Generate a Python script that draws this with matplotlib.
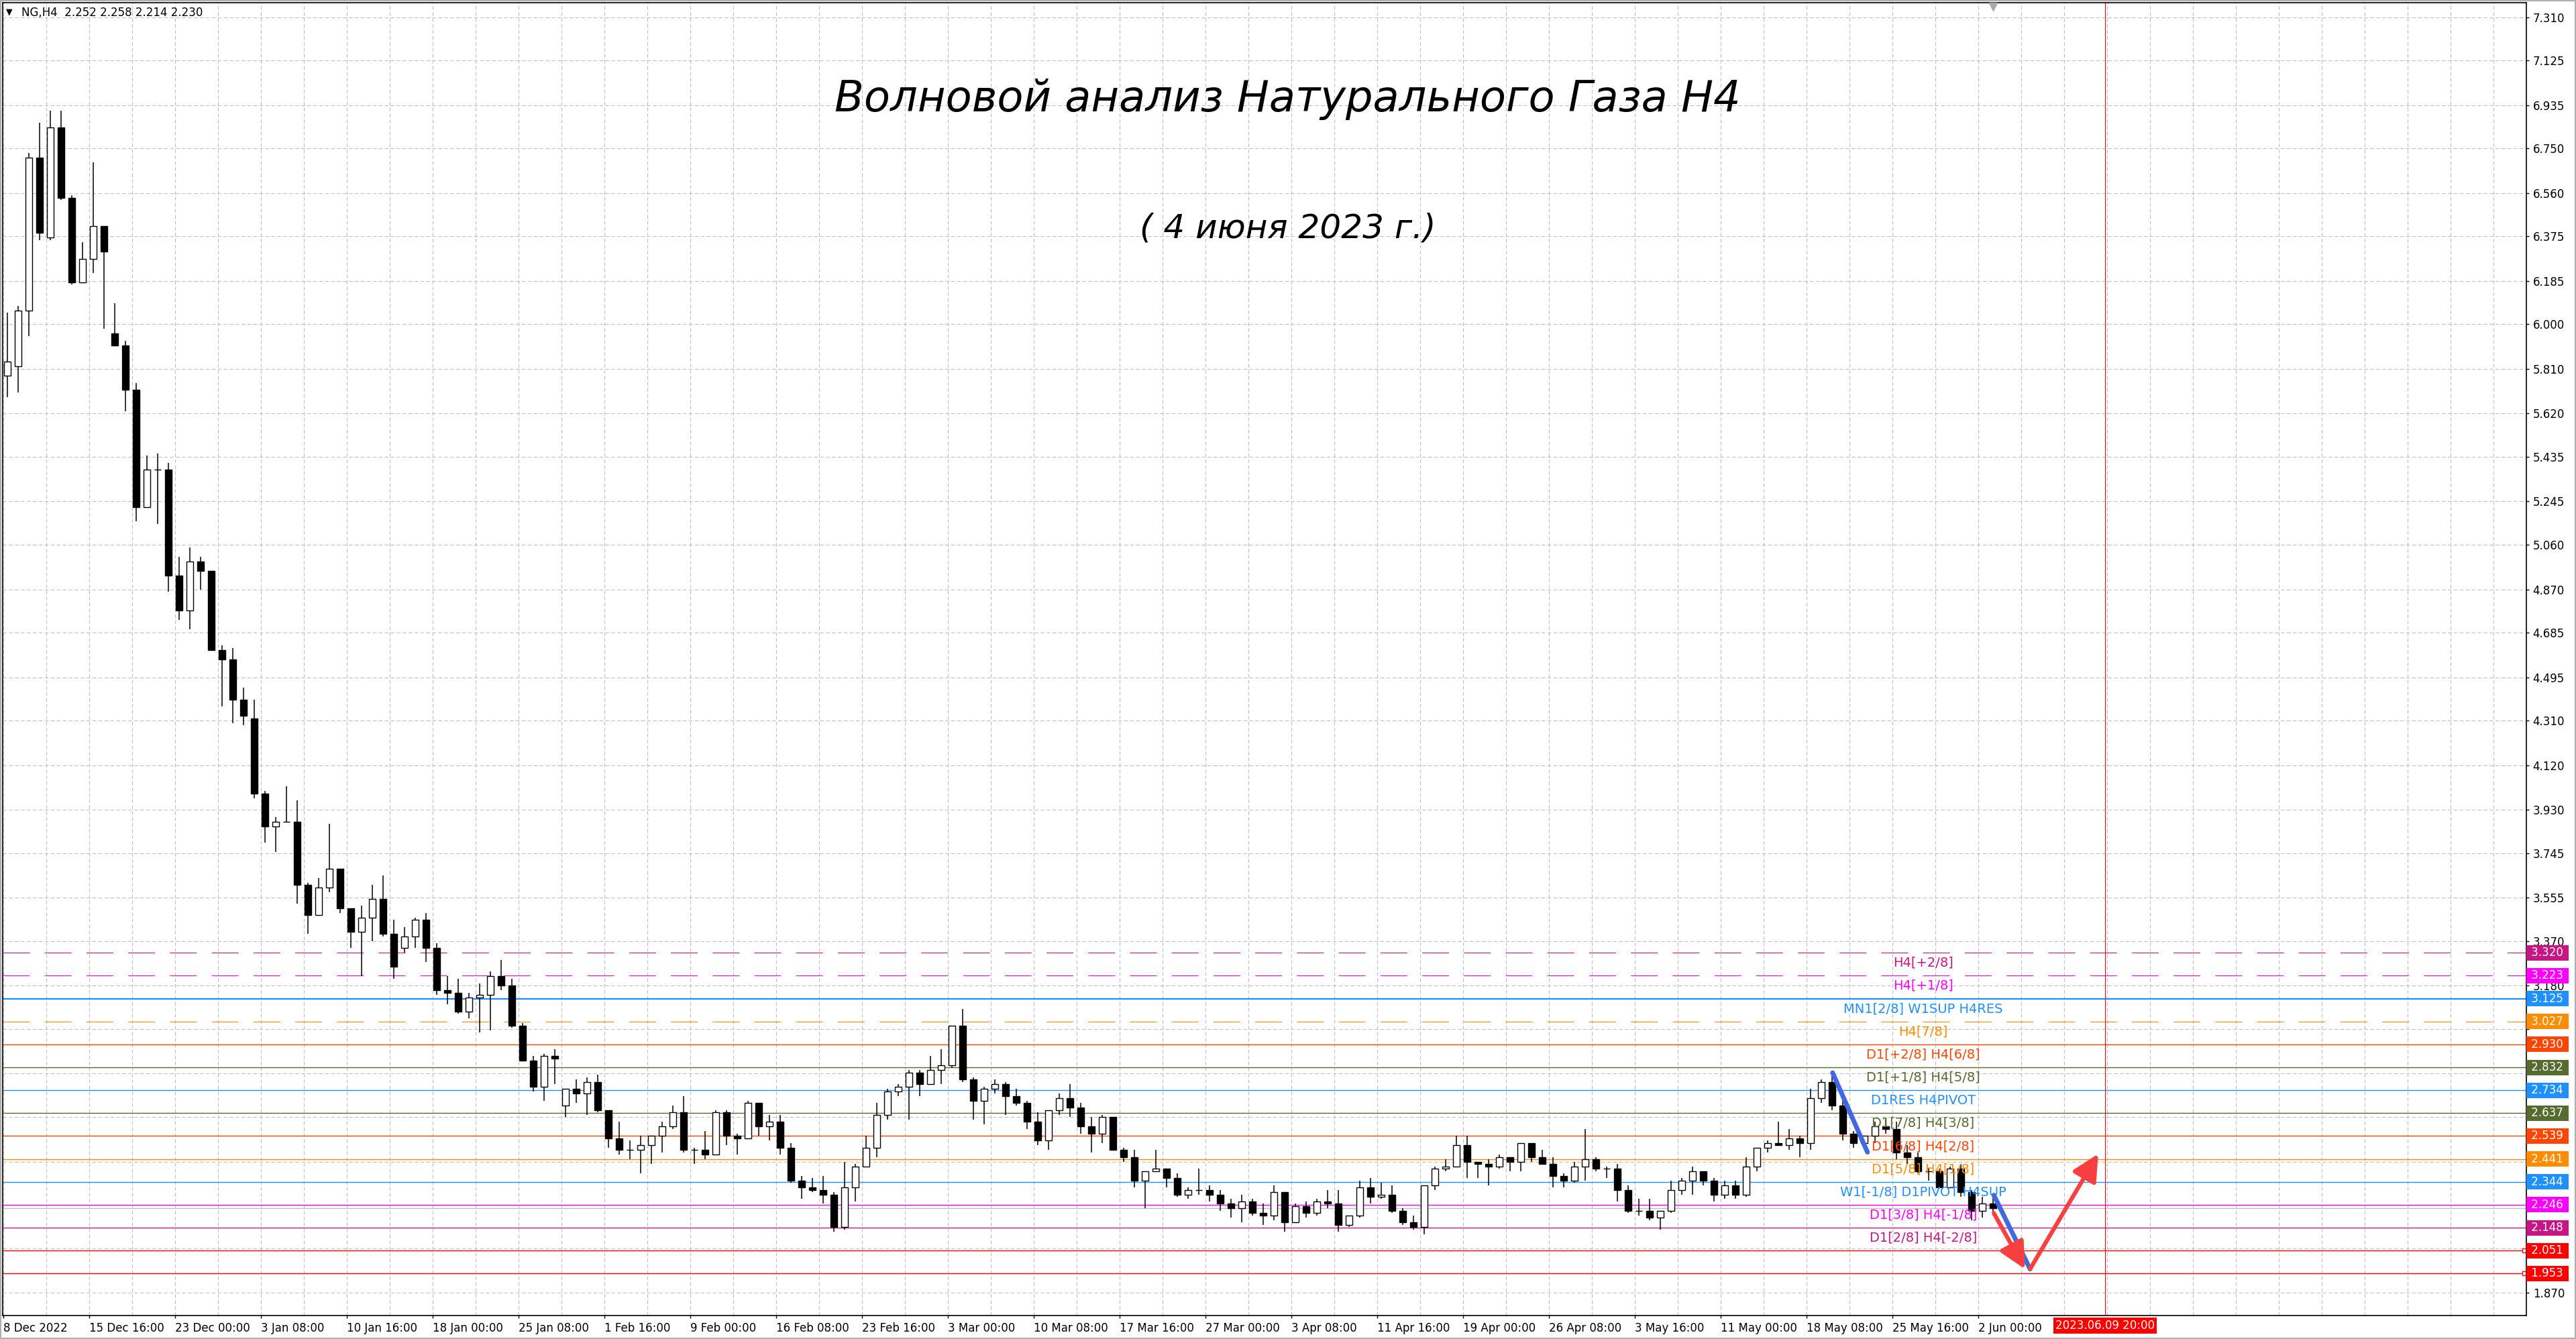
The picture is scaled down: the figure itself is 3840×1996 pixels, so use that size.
import numpy as np
import matplotlib.pyplot as plt
from matplotlib.transforms import blended_transform_factory
from matplotlib.patches import Rectangle

plt.rcParams['font.family'] = ['DejaVu Sans']

# NG H4 candles, one candle per 4 H4 bars
bars_per_candle = 4
opens = [5.78, 5.82, 6.06, 6.71, 6.37, 6.84, 6.54, 6.18, 6.28, 6.42,
         5.96, 5.91, 5.72, 5.22, 5.38, 5.38, 4.93, 4.78, 4.99, 4.95,
         4.61, 4.57, 4.40, 4.32, 4.00, 3.86, 3.88, 3.88, 3.61, 3.48,
         3.60, 3.68, 3.51, 3.41, 3.47, 3.55, 3.40, 3.34, 3.39, 3.46,
         3.34, 3.16, 3.15, 3.07, 3.13, 3.14, 3.22, 3.18, 3.01, 2.86,
         2.75, 2.88, 2.67, 2.74, 2.72, 2.77, 2.65, 2.53, 2.48, 2.48,
         2.50, 2.54, 2.58, 2.64, 2.48, 2.48, 2.46, 2.64, 2.54, 2.53,
         2.68, 2.58, 2.60, 2.49, 2.35, 2.32, 2.31, 2.29, 2.15, 2.32,
         2.41, 2.49, 2.63, 2.73, 2.75, 2.81, 2.76, 2.82, 2.84, 3.01,
         2.78, 2.69, 2.74, 2.76, 2.71, 2.68, 2.60, 2.52, 2.65, 2.70,
         2.66, 2.58, 2.55, 2.62, 2.48, 2.45, 2.35, 2.39, 2.40, 2.36,
         2.29, 2.31, 2.31, 2.29, 2.25, 2.23, 2.26, 2.21, 2.20, 2.30,
         2.17, 2.24, 2.21, 2.26, 2.25, 2.16, 2.20, 2.32, 2.28, 2.29,
         2.22, 2.17, 2.15, 2.33, 2.40, 2.41, 2.50, 2.43, 2.42, 2.41,
         2.45, 2.43, 2.51, 2.45, 2.42, 2.37, 2.35, 2.41, 2.44, 2.40,
         2.40, 2.31, 2.22, 2.22, 2.19, 2.22, 2.31, 2.35, 2.39, 2.35,
         2.29, 2.33, 2.29, 2.41, 2.49, 2.51, 2.50, 2.53, 2.51, 2.70,
         2.77, 2.67, 2.55, 2.51, 2.54, 2.58, 2.57, 2.47, 2.45, 2.39,
         2.39, 2.32, 2.40, 2.30, 2.22, 2.252]
highs = [6.05, 6.08, 6.73, 6.86, 6.91, 6.91, 6.55, 6.35, 6.69, 6.42,
         6.09, 5.93, 5.75, 5.44, 5.45, 5.41, 5.01, 5.05, 5.01, 4.95,
         4.63, 4.62, 4.45, 4.40, 4.01, 3.90, 4.03, 3.97, 3.62, 3.64,
         3.87, 3.68, 3.51, 3.52, 3.61, 3.65, 3.46, 3.43, 3.47, 3.49,
         3.36, 3.22, 3.21, 3.15, 3.19, 3.24, 3.29, 3.21, 3.02, 2.88,
         2.89, 2.91, 2.74, 2.78, 2.79, 2.80, 2.65, 2.60, 2.52, 2.54,
         2.54, 2.60, 2.67, 2.71, 2.49, 2.56, 2.65, 2.65, 2.55, 2.69,
         2.68, 2.63, 2.63, 2.51, 2.37, 2.36, 2.37, 2.30, 2.43, 2.42,
         2.54, 2.68, 2.74, 2.76, 2.82, 2.82, 2.88, 2.91, 3.01, 3.08,
         2.79, 2.75, 2.78, 2.77, 2.74, 2.69, 2.64, 2.65, 2.72, 2.76,
         2.68, 2.62, 2.63, 2.62, 2.49, 2.48, 2.39, 2.48, 2.40, 2.38,
         2.32, 2.40, 2.33, 2.31, 2.27, 2.29, 2.27, 2.25, 2.33, 2.30,
         2.25, 2.26, 2.27, 2.31, 2.31, 2.20, 2.35, 2.36, 2.34, 2.33,
         2.23, 2.20, 2.33, 2.41, 2.44, 2.54, 2.54, 2.43, 2.44, 2.46,
         2.45, 2.51, 2.51, 2.48, 2.45, 2.38, 2.43, 2.57, 2.45, 2.41,
         2.42, 2.33, 2.27, 2.27, 2.22, 2.35, 2.36, 2.41, 2.39, 2.36,
         2.35, 2.35, 2.45, 2.49, 2.52, 2.60, 2.57, 2.54, 2.74, 2.78,
         2.81, 2.70, 2.56, 2.54, 2.60, 2.61, 2.60, 2.50, 2.47, 2.40,
         2.40, 2.41, 2.42, 2.31, 2.28, 2.29]
lows = [5.69, 5.71, 5.95, 6.36, 6.36, 6.53, 6.17, 6.18, 6.22, 5.98,
        5.91, 5.63, 5.16, 5.22, 5.15, 4.86, 4.74, 4.70, 4.87, 4.61,
        4.37, 4.30, 4.29, 3.98, 3.79, 3.75, 3.88, 3.53, 3.40, 3.48,
        3.58, 3.49, 3.34, 3.22, 3.37, 3.39, 3.21, 3.32, 3.34, 3.28,
        3.14, 3.10, 3.06, 3.04, 2.98, 2.99, 3.16, 3.00, 2.86, 2.73,
        2.69, 2.76, 2.62, 2.68, 2.63, 2.64, 2.49, 2.46, 2.44, 2.38,
        2.42, 2.47, 2.57, 2.47, 2.42, 2.44, 2.46, 2.50, 2.46, 2.53,
        2.54, 2.52, 2.46, 2.34, 2.27, 2.30, 2.25, 2.13, 2.14, 2.26,
        2.41, 2.45, 2.61, 2.71, 2.61, 2.71, 2.76, 2.76, 2.83, 2.77,
        2.61, 2.59, 2.72, 2.63, 2.67, 2.57, 2.50, 2.48, 2.63, 2.62,
        2.55, 2.47, 2.51, 2.48, 2.43, 2.32, 2.23, 2.39, 2.32, 2.28,
        2.27, 2.29, 2.26, 2.22, 2.19, 2.17, 2.20, 2.16, 2.18, 2.13,
        2.17, 2.19, 2.20, 2.23, 2.13, 2.15, 2.19, 2.25, 2.27, 2.21,
        2.16, 2.14, 2.12, 2.31, 2.39, 2.41, 2.36, 2.36, 2.33, 2.40,
        2.39, 2.39, 2.43, 2.42, 2.32, 2.32, 2.34, 2.35, 2.39, 2.36,
        2.26, 2.21, 2.20, 2.18, 2.14, 2.21, 2.29, 2.29, 2.33, 2.26,
        2.27, 2.27, 2.28, 2.39, 2.47, 2.50, 2.48, 2.45, 2.48, 2.68,
        2.65, 2.52, 2.49, 2.49, 2.51, 2.55, 2.44, 2.42, 2.38, 2.35,
        2.32, 2.32, 2.28, 2.18, 2.19, 2.20]
closes = [5.84, 6.06, 6.71, 6.39, 6.84, 6.54, 6.18, 6.28, 6.42, 6.31,
          5.91, 5.72, 5.22, 5.38, 5.38, 4.93, 4.78, 4.99, 4.95, 4.61,
          4.57, 4.40, 4.33, 4.00, 3.86, 3.88, 3.88, 3.61, 3.48, 3.60,
          3.68, 3.51, 3.41, 3.47, 3.55, 3.40, 3.26, 3.39, 3.46, 3.34,
          3.16, 3.15, 3.07, 3.13, 3.14, 3.22, 3.18, 3.01, 2.86, 2.75,
          2.88, 2.87, 2.74, 2.72, 2.77, 2.65, 2.53, 2.48, 2.48, 2.50,
          2.54, 2.58, 2.64, 2.48, 2.48, 2.46, 2.64, 2.54, 2.53, 2.68,
          2.58, 2.60, 2.49, 2.35, 2.32, 2.31, 2.29, 2.15, 2.32, 2.41,
          2.49, 2.63, 2.73, 2.75, 2.81, 2.76, 2.82, 2.84, 3.01, 2.78,
          2.69, 2.74, 2.76, 2.71, 2.68, 2.60, 2.52, 2.65, 2.70, 2.66,
          2.58, 2.55, 2.62, 2.48, 2.45, 2.35, 2.39, 2.40, 2.36, 2.29,
          2.31, 2.31, 2.29, 2.25, 2.23, 2.26, 2.21, 2.20, 2.30, 2.17,
          2.24, 2.21, 2.26, 2.25, 2.16, 2.20, 2.32, 2.28, 2.29, 2.22,
          2.17, 2.15, 2.33, 2.40, 2.41, 2.50, 2.43, 2.42, 2.41, 2.45,
          2.43, 2.51, 2.45, 2.42, 2.37, 2.35, 2.41, 2.44, 2.40, 2.40,
          2.31, 2.22, 2.22, 2.19, 2.22, 2.31, 2.35, 2.39, 2.35, 2.29,
          2.33, 2.29, 2.41, 2.49, 2.51, 2.50, 2.53, 2.51, 2.70, 2.77,
          2.67, 2.55, 2.51, 2.54, 2.58, 2.57, 2.47, 2.45, 2.39, 2.39,
          2.32, 2.40, 2.30, 2.22, 2.25, 2.230]

# Murrey-style levels on the right
level_prices = [3.320, 3.223, 3.125, 3.027, 2.930, 2.832, 2.734, 2.637,
                2.539, 2.441, 2.344, 2.246, 2.148, 2.051, 1.953]
level_colors = ['#C71585', '#FF00FF', '#1E90FF', '#FF8C00', '#FF4500',
                '#556B2F', '#1E90FF', '#556B2F', '#FF4500', '#FF8C00',
                '#1E90FF', '#FF00FF', '#C71585', '#FF0000', '#FF0000']
level_dashed = [True, True, False, True, False, False, False, False,
                False, False, False, False, False, False, False]
level_names = ['H4[+2/8]', 'H4[+1/8]', 'MN1[2/8] W1SUP H4RES', 'H4[7/8]',
               'D1[+2/8] H4[6/8]', 'D1[+1/8] H4[5/8]', 'D1RES H4PIVOT',
               'D1[7/8] H4[3/8]', 'D1[6/8] H4[2/8]', 'D1[5/8] H4[1/8]',
               'W1[-1/8] D1PIVOT H4SUP', 'D1[3/8] H4[-1/8]',
               'D1[2/8] H4[-2/8]', '', '']
bid_price = 2.230

# wave sketch (bar index, price)
blue_wave_1 = ([681.7, 694.7], [2.809, 2.470])
blue_wave_2 = ([741.8, 755.3], [2.287, 1.972])
red_arrow_1 = ((741.8, 2.210), (753.4, 1.972))
red_arrow_2 = ((755.3, 1.972), (780.7, 2.463))
future_bar = 783.25
future_label = '2023.06.09 20:00'

y_ticks = [7.310, 7.125, 6.935, 6.750, 6.560, 6.375, 6.185, 6.000, 5.810,
           5.620, 5.435, 5.245, 5.060, 4.870, 4.685, 4.495, 4.310, 4.120,
           3.930, 3.745, 3.555, 3.370, 3.180, 2.995, 2.805, 2.620, 2.430,
           2.245, 2.060, 1.870]
# tick labels that sit under the coloured price boxes
hidden_ticks = [2.995, 2.805, 2.620, 2.430, 2.245, 2.060]
date_labels = ['8 Dec 2022', '15 Dec 16:00', '23 Dec 00:00', '3 Jan 08:00',
               '10 Jan 16:00', '18 Jan 00:00', '25 Jan 08:00', '1 Feb 16:00',
               '9 Feb 00:00', '16 Feb 08:00', '23 Feb 16:00', '3 Mar 00:00',
               '10 Mar 08:00', '17 Mar 16:00', '27 Mar 00:00', '3 Apr 08:00',
               '11 Apr 16:00', '19 Apr 00:00', '26 Apr 08:00', '3 May 16:00',
               '11 May 00:00', '18 May 08:00', '25 May 16:00', '2 Jun 00:00']
bars_per_label = 32

fig = plt.figure(figsize=(38.4, 19.96), dpi=100)
ax = fig.add_axes([4 / 3840, 35 / 1996, 3762 / 3840, 1957 / 1996])
ax.set_xlim(-0.25, 940.25)
ax.set_ylim(1.7737, 7.3715)
ax.set_axisbelow(True)

# grid every 16 bars / each price tick
ax.set_xticks(np.arange(0, 940, 16), minor=True)
ax.grid(True, which='both', axis='x', color='#C0C0C0', linestyle=(0, (5, 3)), linewidth=0.8)
ax.grid(True, which='major', axis='y', color='#C0C0C0', linestyle=(0, (5, 3)), linewidth=0.8)
ax.tick_params(axis='x', which='minor', length=0)

# level lines
for p, col, dashed in zip(level_prices, level_colors, level_dashed):
    if p == 3.125:
        lw = 1.6
    elif dashed:
        lw = 0.8
    else:
        lw = 1.0
    ls = (0, (36, 20)) if dashed else '-'
    ax.axhline(p, color=col, lw=lw, linestyle=ls, zorder=2)
ax.axhline(bid_price, color='#C0C0C0', lw=1.0, zorder=2)
ax.plot([939.4, 939.4], level_prices[-2:], 's', ms=4, mfc='white', mec='red', mew=1, zorder=2)

# candles
o, h, l, c = map(np.asarray, (opens, highs, lows, closes))
x = np.arange(len(c)) * bars_per_candle + 1.5
up = c >= o
ax.vlines(x, l, h, color='black', lw=1.1, zorder=3)
ax.bar(x[up], (c - o)[up], bottom=o[up], width=2.4, color='white',
       edgecolor='black', linewidth=1.0, zorder=4)
ax.bar(x[~up], (o - c)[~up], bottom=c[~up], width=2.4, color='black',
       edgecolor='black', linewidth=1.0, zorder=4)

# level names
for p, col, name in zip(level_prices, level_colors, level_names):
    if name:
        ax.annotate(name, (715.5, p), xytext=(0, -4), textcoords='offset points',
                    ha='center', va='top', color=col, fontsize=14, zorder=6)

# wave sketch
ax.plot(*blue_wave_1, color='#4169E1', lw=5, solid_capstyle='round', zorder=7)
ax.plot(*blue_wave_2, color='#4169E1', lw=5, solid_capstyle='round', zorder=7)
for start, end in (red_arrow_1, red_arrow_2):
    ax.annotate('', xy=end, xytext=start, zorder=8,
                arrowprops=dict(arrowstyle='-|>,head_length=0.6,head_width=0.3',
                                mutation_scale=40, color='#F84040', lw=4.5,
                                shrinkA=0, shrinkB=0))

ax.axvline(future_bar, color='red', lw=0.8, zorder=2)

# axes look
for sp in ax.spines.values():
    sp.set_color('black')
    sp.set_linewidth(1.2)
ax.yaxis.tick_right()
ax.set_yticks(y_ticks)
ax.set_yticklabels(['' if v in hidden_ticks else '%.3f' % v for v in y_ticks])
ax.tick_params(axis='y', which='major', direction='out', length=3, width=1,
               pad=4, labelsize=12, colors='black')
ax.set_xticks(np.arange(len(date_labels)) * bars_per_label)
ax.set_xticklabels(date_labels, ha='left')
ax.tick_params(axis='x', which='major', direction='out', length=3, width=1,
               pad=4, labelsize=12)

# price boxes on the right axis
tr_y = blended_transform_factory(ax.transAxes, ax.transData)
for p, col in zip(level_prices, level_colors):
    ax.text(1.0006, p, ' %.3f ' % p, transform=tr_y, ha='left', va='center',
            color='white', fontsize=12, clip_on=False, zorder=10,
            bbox=dict(boxstyle='square,pad=0.15', fc=col, ec='none'))

# future time marker on the time axis
tr_x = blended_transform_factory(ax.transData, ax.transAxes)
ax.text(future_bar, -0.0077, future_label, transform=tr_x, ha='center', va='center',
        color='white', fontsize=12, clip_on=False, zorder=10,
        bbox=dict(boxstyle='square,pad=0.2', fc='#FF0000', ec='none'))
ax.plot([741.5], [0.997], 'v', color='#A8A8A8', ms=8, transform=tr_x, clip_on=False, zorder=10)

# header and titles
fig.text(14 / 3840, 1 - 18 / 1996, '▼', fontsize=9, ha='center', va='center')
fig.text(32 / 3840, 1 - 19 / 1996, 'NG,H4  2.252 2.258 2.214 2.230',
         fontsize=12, ha='left', va='center')
fig.text(0.4997, 0.926, 'Волновой анализ Натурального Газа Н4', fontsize=46,
         style='oblique', ha='center', va='center')
fig.text(0.5, 0.8296, '( 4 июня 2023 г.)', fontsize=36, style='oblique',
         ha='center', va='center')

fig.patches.append(Rectangle((0, 0), 1, 1, transform=fig.transFigure, fill=False,
                             edgecolor='#B0B0B0', lw=3))

fig.savefig('out.png', dpi=100)
